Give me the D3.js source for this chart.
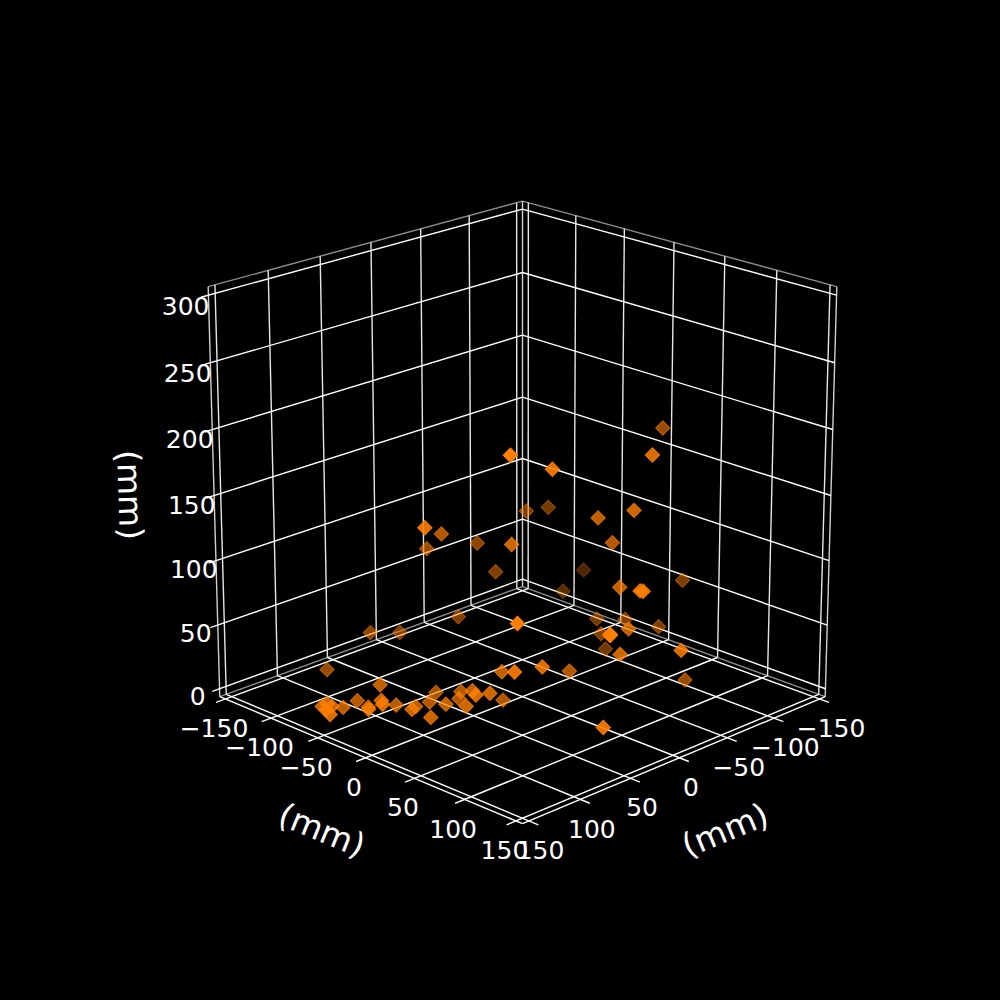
<!DOCTYPE html>
<html>
<head>
<meta charset="utf-8">
<style>
  html, body { margin: 0; background: #000; }
  text { font-family: "DejaVu Sans", sans-serif; fill: #fff; }
</style>
</head>
<body>
<div id="chart"></div>
<script src="https://cdn.jsdelivr.net/npm/d3@7"></script>
<script>
// --- Data (mm) ---
const xVals = [56, 94, 138, 135, 133, 144, 145, 116, 102, 106, 115, 32, -1, 62, 32, 53, 96, 107, 116, 86, 78, 93, 65, 51, 66, 84, 47, 49, 50, 67, 65, 51, 25, -113, -89, -43, -24, -25, -125, -83, -88, -40, -104, -73, 18, 18, -82, -22, -44, -89, 29, -12, 18, 37, -1, -56, -77, 73, 29, 21, -15, 14, -29, -122, -63, -54, -44, -57];
const yVals = [-102, -108, -65, -63, -60, -50, -53, -67, -67, -51, -41, -96, -68, 57, 11, 45, -49, -36, -25, -43, -31, -19, -30, -38, -12, -9, -16, -16, -1, 20, 8, 18, 5, -48, -46, 56, 94, 96, 42, -5, 19, 68, 38, 9, 105, 105, 5, 77, 116, 79, 49, 36, 99, 25, 29, -52, -50, -25, -54, -78, -62, 3, -57, 23, 68, 59, 33, 35];
const zVals = [31, 11, 8, 10, 8, 8, 11, 0, 1, 2, 6, 26, 37, 85, 26, 42, 17, 12, 15, 0, 0, 6, 0, 1, 4, 0, 7, 2, 13, 21, 8, 17, 0, 49, 39, 83, 96, 96, 62, 30, 35, 55, 30, 25, 77, 78, 9, 43, 51, 4, 40, 21, 5, 196, 177, 110, 108, 138, 114, 94, 93, 117, 68, 177, 182, 140, 130, 108];
const horizTicks = [-150, -100, -50, 0, 50, 100, 150];
const zTicks = [0, 50, 100, 150, 200, 250, 300];
const axisTitle = '(mm)';

// --- View setup (elev 20, azim 45, camera distance 10) ---
const width = 1000, height = 1000;
const elev = 20 * Math.PI / 180;
const sinE = Math.sin(elev), cosE = Math.cos(elev);
const camDist = 10, focal = 396.5, cx = 522.5, cy = 495.5;
const lo = -156.25, hi = 156.25, zLo = -6.25, zHi = 306.25;

const xScale = d3.scaleLinear().domain([lo, hi]).range([-0.55, 0.55]);
const yScale = d3.scaleLinear().domain([lo, hi]).range([-0.55, 0.55]);
const zScale = d3.scaleLinear().domain([zLo, zHi]).range([-0.55, 0.55]);

function project(x, y, z) {
    const bx = xScale(x), by = yScale(y), bz = zScale(z);
    const r = (by - bx) / Math.SQRT2;
    const h = (bx + by) / Math.SQRT2;
    const up = cosE * bz - sinE * h;
    const depth = cosE * h + sinE * bz;
    const k = 1 / (1 - depth / camDist);
    return { sx: cx + focal * r * k, sy: cy - focal * up * k, depth };
}

const svg = d3.select('#chart').append('svg')
    .attr('width', width)
    .attr('height', height)
    .style('display', 'block')
    .style('background', '#000');

const line = d3.line().x(d => d.sx).y(d => d.sy);

function seg(group, a, b, color, w) {
    group.append('path')
        .attr('d', line([project(...a), project(...b)]))
        .attr('fill', 'none')
        .attr('stroke', color)
        .attr('stroke-width', w);
}

// --- Panes ---
const edges = svg.append('g');
const edgeGray = '#8c8c8c', edgeLight = '#d0d0d0';
seg(edges, [lo, lo, zHi], [hi, lo, zHi], edgeGray, 1.4);
seg(edges, [lo, lo, zHi], [lo, hi, zHi], edgeGray, 1.4);
seg(edges, [lo, lo, zLo], [hi, lo, zLo], edgeGray, 1.4);
seg(edges, [lo, lo, zLo], [lo, hi, zLo], edgeGray, 1.4);
seg(edges, [lo, lo, zLo], [lo, lo, zHi], edgeLight, 1.4);
seg(edges, [hi, lo, zLo], [hi, lo, zHi], edgeLight, 1.4);
seg(edges, [lo, hi, zLo], [lo, hi, zHi], edgeLight, 1.4);
seg(edges, [hi, lo, zLo], [hi, hi, zLo], '#fff', 1.4);
seg(edges, [lo, hi, zLo], [hi, hi, zLo], '#fff', 1.4);

// --- Grid + tick marks ---
const grid = svg.append('g');
const tickOut = 9;
horizTicks.forEach(v => {
    seg(grid, [v, lo, zLo], [v, hi + tickOut, zLo], '#fff', 1.4);
    seg(grid, [v, lo, zLo], [v, lo, zHi], '#e6e6e6', 1.4);
    seg(grid, [lo, v, zLo], [hi + tickOut, v, zLo], '#fff', 1.4);
    seg(grid, [lo, v, zLo], [lo, v, zHi], '#e6e6e6', 1.4);
});
zTicks.forEach(v => {
    seg(grid, [lo, hi, v], [lo, lo, v], '#fff', 1.4);
    seg(grid, [lo, lo, v], [hi + 7, lo, v], '#fff', 1.4);
});

// --- Points, far ones first, dimmer with depth ---
const points = xVals.map((x, i) => ({ x, y: yVals[i], z: zVals[i], ...project(x, yVals[i], zVals[i]) }))
    .sort((a, b) => a.depth - b.depth);
const alpha = d3.scaleLinear().domain(d3.extent(points, d => d.depth)).range([0.3, 1]);
const diamond = d3.symbol().type(d3.symbolSquare).size(104);

svg.append('g').selectAll('path')
    .data(points)
    .join('path')
    .attr('d', diamond)
    .attr('transform', d => `translate(${d.sx},${d.sy}) rotate(45)`)
    .attr('fill', '#ff7f00')
    .attr('fill-opacity', d => alpha(d.depth))
    .attr('stroke', '#ff7f00')
    .attr('stroke-opacity', d => alpha(d.depth))
    .attr('stroke-width', 1);

// --- Tick labels ---
const fmt = v => String(v).replace('-', '\u2212');
const labels = svg.append('g')
    .attr('font-size', 25)
    .attr('text-anchor', 'middle')
    .attr('dominant-baseline', 'central');

horizTicks.forEach(v => {
    const left = project(hi + 11, v, zLo);
    labels.append('text').attr('x', left.sx).attr('y', left.sy + 25).text(fmt(v));
    const right = project(v, hi + 11, zLo);
    labels.append('text').attr('x', right.sx).attr('y', right.sy + 25).text(fmt(v));
});
zTicks.forEach(v => {
    const p = project(hi + 21, lo, v);
    labels.append('text').attr('x', p.sx).attr('y', p.sy + 5 * v / 300).text(fmt(v));
});

// --- Axis titles ---
const titles = [
    { x: 322, y: 830, rot: 22.4 },
    { x: 725, y: 830, rot: -22.4 },
    { x: 130, y: 495, rot: 88.2 }
];
svg.append('g').selectAll('text')
    .data(titles)
    .join('text')
    .attr('transform', d => `translate(${d.x},${d.y}) rotate(${d.rot})`)
    .attr('font-size', 33)
    .attr('text-anchor', 'middle')
    .attr('dominant-baseline', 'central')
    .text(axisTitle);
</script>
</body>
</html>
